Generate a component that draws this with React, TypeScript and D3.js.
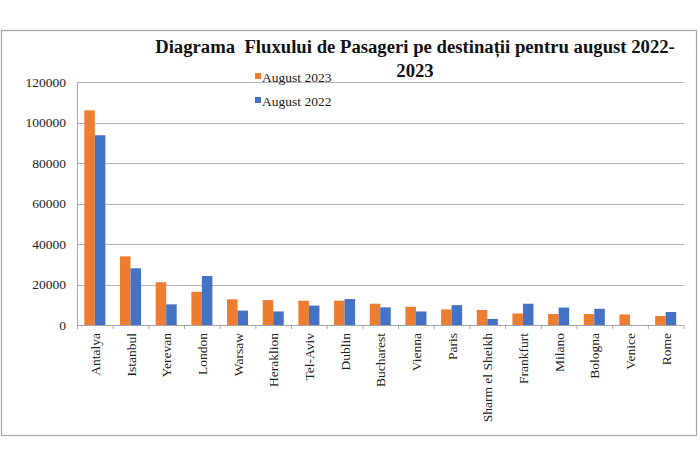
import React, { useRef, useEffect } from 'react';
import * as d3 from 'd3';

const categories = ['Antalya', 'Istanbul', 'Yerevan', 'London', 'Warsaw', 'Heraklion', 'Tel-Aviv', 'Dublin', 'Bucharest', 'Vienna', 'Paris', 'Sharm el Sheikh', 'Frankfurt', 'Milano', 'Bologna', 'Venice', 'Rome'];
const august2023 = [106000, 33900, 21100, 16400, 12700, 12300, 12000, 12000, 10500, 9000, 7700, 7400, 5700, 5400, 5400, 5200, 4400];
const august2022 = [93700, 28000, 10200, 24200, 7100, 6700, 9600, 12800, 8700, 6700, 9800, 3000, 10500, 8600, 8000, 0, 6400];
const seriesNames = ['August 2023', 'August 2022'];
const yTicks = [0, 20000, 40000, 60000, 80000, 100000, 120000];

const colors = ['#ED7D31', '#4472C4'];
const font = 'Liberation Serif';

const App = () => {
  const svgRef = useRef<SVGSVGElement>(null);

  useEffect(() => {
    const svg = d3.select(svgRef.current);
    svg.selectAll('*').remove();

    const margin = { top: 82, left: 77, right: 684, bottom: 325 };

    // chart frame
    svg.append('rect')
      .attr('x', 1.5).attr('y', 30.5)
      .attr('width', 695).attr('height', 405)
      .attr('fill', '#fff').attr('stroke', '#a6a6a6').attr('stroke-width', 1.2);

    const x0 = d3.scaleBand<string>()
      .domain(categories)
      .range([margin.left, 683.5])
      .paddingInner(0.41)
      .paddingOuter(0.205);

    const x1 = d3.scaleBand<number>()
      .domain([0, 1])
      .range([0, x0.bandwidth()]);

    const y = d3.scaleLinear()
      .domain([0, 120000])
      .range([margin.bottom, margin.top]);

    // gridlines
    svg.append('g')
      .selectAll('line')
      .data(yTicks.filter(d => d > 0))
      .join('line')
      .attr('x1', margin.left).attr('x2', margin.right)
      .attr('y1', d => Math.round(y(d)) + 0.5).attr('y2', d => Math.round(y(d)) + 0.5)
      .attr('stroke', '#b3b3b3').attr('stroke-width', 1);

    // y labels
    svg.append('g')
      .selectAll('text')
      .data(yTicks)
      .join('text')
      .attr('x', 66)
      .attr('y', d => y(d) + 4.5)
      .attr('text-anchor', 'end')
      .attr('font-family', font)
      .attr('font-size', 13.5)
      .attr('fill', '#222')
      .text(d => String(d));

    // bars
    const groups = svg.append('g')
      .selectAll('g')
      .data(categories)
      .join('g')
      .attr('transform', d => `translate(${x0(d)},0)`);

    groups.selectAll('rect')
      .data((d, i) => [august2023[i], august2022[i]])
      .join('rect')
      .attr('x', (d, j) => x1(j)!)
      .attr('width', x1.bandwidth())
      .attr('y', d => y(d))
      .attr('height', d => y(0) - y(d))
      .attr('fill', (d, j) => colors[j]);

    // axes lines
    svg.append('line')
      .attr('x1', margin.left).attr('x2', 683.5)
      .attr('y1', margin.bottom + 0.5).attr('y2', margin.bottom + 0.5)
      .attr('stroke', '#a6a6a6');
    svg.append('line')
      .attr('x1', margin.left + 0.5).attr('x2', margin.left + 0.5)
      .attr('y1', margin.top).attr('y2', margin.bottom)
      .attr('stroke', '#a6a6a6');

    // ticks between categories
    const step = x0.step();
    svg.append('g')
      .selectAll('line')
      .data(d3.range(categories.length + 1))
      .join('line')
      .attr('x1', i => margin.left + i * step + 0.5)
      .attr('x2', i => margin.left + i * step + 0.5)
      .attr('y1', margin.bottom).attr('y2', margin.bottom + 4)
      .attr('stroke', '#a6a6a6');

    // category labels (rotated)
    svg.append('g')
      .selectAll('text')
      .data(categories)
      .join('text')
      .attr('transform', d => `translate(${x0(d)! + x0.bandwidth() / 2 + 5},333) rotate(-90)`)
      .attr('text-anchor', 'end')
      .attr('font-family', font)
      .attr('font-size', 13.5)
      .attr('fill', '#222')
      .text(d => d);

    // title
    const title = svg.append('text')
      .attr('text-anchor', 'middle')
      .attr('font-family', font)
      .attr('font-size', 18.7)
      .attr('font-weight', 'bold')
      .style('white-space', 'pre')
      .attr('fill', '#111');
    title.append('tspan').attr('x', 415).attr('y', 53).text('Diagrama  Fluxului de Pasageri pe destinații pentru august 2022-');
    title.append('tspan').attr('x', 415).attr('y', 77).text('2023');

    // legend
    const legend = svg.append('g')
      .selectAll('g')
      .data(seriesNames)
      .join('g')
      .attr('transform', (d, i) => `translate(255,${77 + i * 24})`);
    legend.append('rect')
      .attr('x', 0).attr('y', -4).attr('width', 6).attr('height', 6)
      .attr('fill', (d, i) => colors[i]);
    legend.append('text')
      .attr('x', 7).attr('y', 4.5)
      .attr('font-family', font)
      .attr('font-size', 13.5)
      .attr('fill', '#222')
      .text(d => d);
  }, []);

  return (
    <svg
      ref={svgRef}
      width={700}
      height={466}
      style={{ position: 'absolute', left: 0, top: 0, display: 'block', background: '#fff' }}
    ></svg>
  );
};

export default App;
